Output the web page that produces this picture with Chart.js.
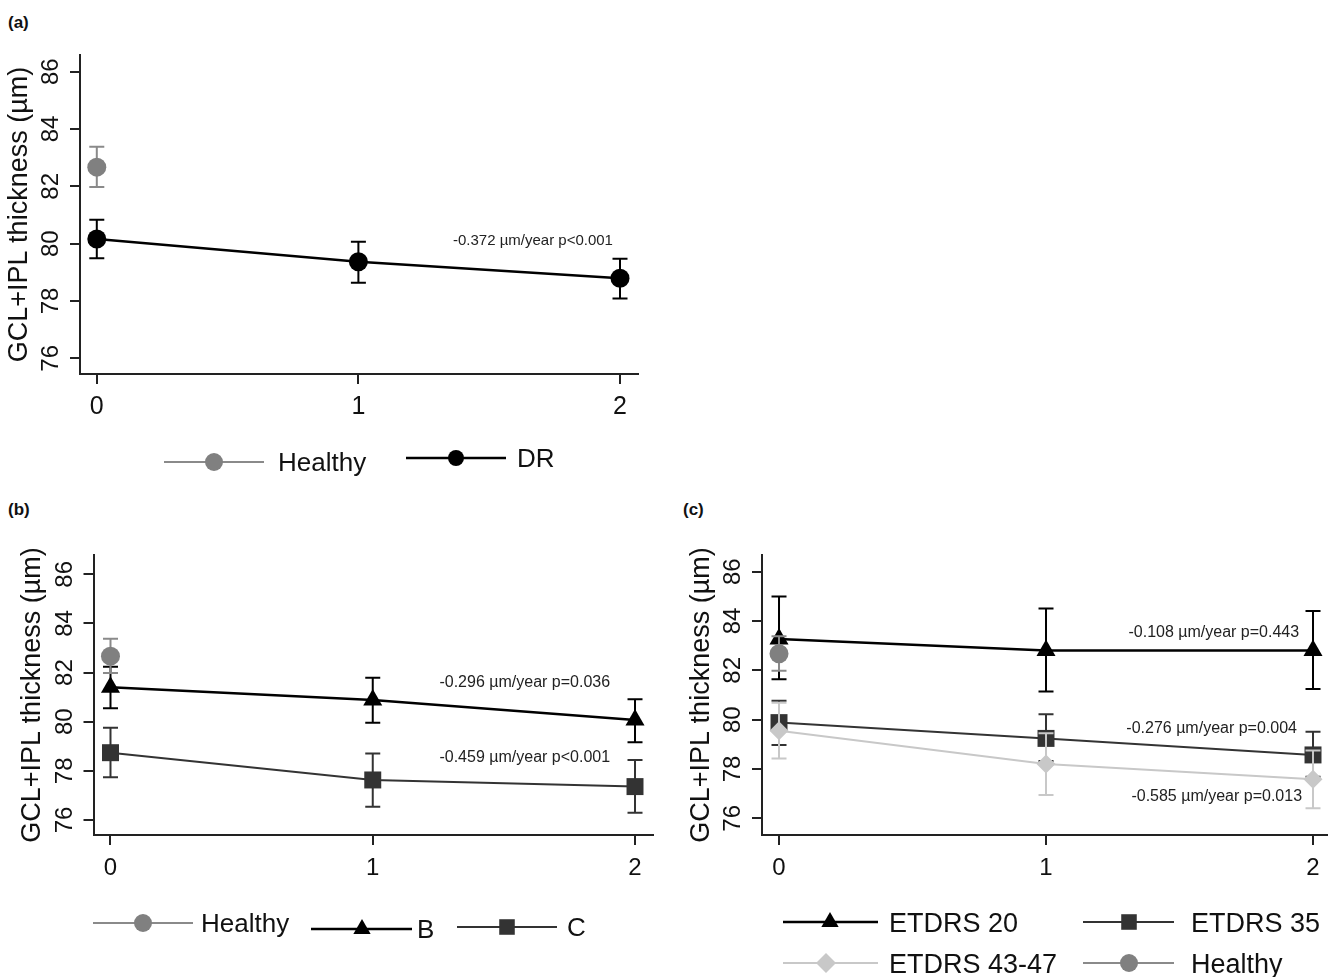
<!DOCTYPE html>
<html>
<head>
<meta charset="utf-8">
<script src="https://cdn.jsdelivr.net/npm/chart.js@4.4.1/dist/chart.umd.min.js"></script>
<style>
  html, body { margin: 0; padding: 0; background: #fff; }
  body { width: 1331px; height: 977px; position: relative; overflow: hidden; font-family: "Liberation Sans", Arial, sans-serif; }
  canvas { position: absolute; }
  .tag { position: absolute; font-weight: bold; font-size: 17px; color: #111; line-height: 20px; }
</style>
</head>
<body>
<div class="tag" style="left:8px; top:13px">(a)</div>
<div class="tag" style="left:8px; top:500px">(b)</div>
<div class="tag" style="left:683px; top:500px">(c)</div>
<canvas id="chartA" width="665" height="490" style="left:0; top:0"></canvas>
<canvas id="chartB" width="665" height="487" style="left:0; top:490px"></canvas>
<canvas id="chartC" width="666" height="487" style="left:665px; top:490px"></canvas>
<script>
const FONT = '"Liberation Sans", Arial, sans-serif';

// years of follow-up and axis ticks
const years = [0, 1, 2];
const xTicks = [0, 1, 2];
const yTicks = [76, 78, 80, 82, 84, 86];
const yTitle = "GCL+IPL thickness (µm)";

// healthy controls (baseline only)
const healthyMean = [82.67];
const healthyLow = [81.98];
const healthyHigh = [83.38];

// (a) all DR eyes
const drMean = [80.16, 79.37, 78.79];
const drLow = [79.49, 78.64, 78.09];
const drHigh = [80.83, 80.07, 79.47];

// (b) groups B and C
const bMean = [81.40, 80.88, 80.07];
const bLow = [80.55, 79.96, 79.16];
const bHigh = [82.24, 81.79, 80.91];
const cMean = [78.74, 77.63, 77.36];
const cLow = [77.74, 76.54, 76.30];
const cHigh = [79.76, 78.71, 78.44];

// (c) ETDRS levels
const e20Mean = [83.27, 82.80, 82.80];
const e20Low = [81.64, 81.14, 81.24];
const e20High = [84.99, 84.51, 84.41];
const e35Mean = [79.88, 79.24, 78.57];
const e35Low = [78.97, 78.32, 77.69];
const e35High = [80.77, 80.22, 79.51];
const e43Mean = [79.55, 78.20, 77.58];
const e43Low = [78.43, 76.95, 76.41];
const e43High = [80.69, 79.45, 78.75];

// slope annotations
const notesA = ["-0.372 µm/year p<0.001"];
const notesB = ["-0.296 µm/year p=0.036", "-0.459 µm/year p<0.001"];
const notesC = ["-0.108 µm/year p=0.443", "-0.276 µm/year p=0.004", "-0.585 µm/year p=0.013"];

function series(label, mean, low, high, style) {
  return Object.assign({
    label: label,
    data: mean.map((v, i) => ({ x: years[i], y: v })),
    errLow: low,
    errHigh: high,
    tension: 0,
    clip: false,
    pointBorderWidth: 0
  }, style);
}

const styles = {
  healthy: { borderColor: "#8a8a8a", backgroundColor: "#808080", pointBackgroundColor: "#808080", pointStyle: "circle", pointRadius: 9.5, borderWidth: 2, legendRadius: 9 },
  dr: { borderColor: "#000", backgroundColor: "#000", pointBackgroundColor: "#000", pointStyle: "circle", pointRadius: 9.5, borderWidth: 2.5, legendRadius: 8 },
  tri: { borderColor: "#000", backgroundColor: "#000", pointBackgroundColor: "#000", pointStyle: "triangle", pointRadius: 11, borderWidth: 2.5, legendRadius: 10 },
  sq: { borderColor: "#333", backgroundColor: "#333", pointBackgroundColor: "#333", pointStyle: "rect", pointRadius: 12, borderWidth: 2, legendRadius: 11 },
  dia: { borderColor: "#c8c8c8", backgroundColor: "#c8c8c8", pointBackgroundColor: "#c8c8c8", pointStyle: "rectRot", pointRadius: 9.5, borderWidth: 2, legendRadius: 10 }
};

// error bars drawn just before each dataset so layering follows dataset order
const errorBars = {
  id: "errorBars",
  beforeDatasetDraw(chart, args) {
    const ds = chart.data.datasets[args.index];
    if (!ds.errLow) return;
    const xs = chart.scales.x, ys = chart.scales.y, ctx = chart.ctx;
    const cap = 7.5;
    ctx.save();
    ctx.strokeStyle = ds.borderColor;
    ctx.lineWidth = 2;
    ds.data.forEach((p, i) => {
      const px = xs.getPixelForValue(p.x);
      const top = ys.getPixelForValue(ds.errHigh[i]);
      const bot = ys.getPixelForValue(ds.errLow[i]);
      ctx.beginPath();
      ctx.moveTo(px, top); ctx.lineTo(px, bot);
      ctx.moveTo(px - cap, top); ctx.lineTo(px + cap, top);
      ctx.moveTo(px - cap, bot); ctx.lineTo(px + cap, bot);
      ctx.stroke();
    });
    ctx.restore();
  }
};

// slope notes + line/marker legend
const extras = {};
const extrasPlugin = {
  id: "extras",
  afterDraw(chart) {
    const ex = extras[chart.canvas.id];
    if (!ex) return;
    const ctx = chart.ctx, xs = chart.scales.x, ys = chart.scales.y;
    ctx.save();
    ctx.fillStyle = "#222";
    ctx.font = ex.noteSize + "px " + FONT;
    ctx.textAlign = "right";
    ctx.textBaseline = "middle";
    ex.notes.forEach(n => {
      ctx.fillText(n.text, xs.getPixelForValue(n.x), ys.getPixelForValue(n.y));
    });

    ctx.textAlign = "left";
    ctx.textBaseline = "alphabetic";
    ctx.font = ex.legendSize + "px " + FONT;
    ex.legend.forEach(it => {
      const ds = chart.data.datasets.find(d => d.label === it.label);
      ctx.strokeStyle = ds.borderColor;
      ctx.lineWidth = ds.borderWidth;
      ctx.beginPath();
      ctx.moveTo(it.x1, it.y);
      ctx.lineTo(it.x2, it.y);
      ctx.stroke();
      ctx.fillStyle = ds.pointBackgroundColor;
      Chart.helpers.drawPoint(ctx, { pointStyle: ds.pointStyle, radius: ds.legendRadius, rotation: 0, borderWidth: 0 }, it.mx, it.y);
      ctx.fillStyle = "#111";
      ctx.fillText(ds.label, it.tx, it.y + 0.36 * ex.legendSize);
    });
    ctx.restore();
  }
};

Chart.register(errorBars, extrasPlugin);
Chart.defaults.font.family = FONT;

function makeChart(id, datasets, cfg) {
  return new Chart(document.getElementById(id), {
    type: "line",
    data: { datasets: datasets },
    options: {
      responsive: false,
      animation: false,
      events: [],
      layout: { autoPadding: false, padding: cfg.padding },
      plugins: { legend: { display: false }, tooltip: { enabled: false } },
      scales: {
        x: {
          type: "linear",
          min: cfg.xMin,
          max: cfg.xMax,
          afterBuildTicks: s => { s.ticks = xTicks.map(v => ({ value: v })); },
          afterFit: s => { s.height = 60; },
          grid: { drawOnChartArea: false, drawTicks: true, tickLength: 10, color: "#222", lineWidth: 2 },
          border: { display: true, color: "#222", width: 2 },
          ticks: { color: "#111", font: { size: cfg.xFont }, padding: cfg.xPad, maxRotation: 0, autoSkip: false, callback: v => String(v) }
        },
        y: {
          type: "linear",
          min: cfg.yMin,
          max: cfg.yMax,
          afterBuildTicks: s => { s.ticks = yTicks.map(v => ({ value: v })); },
          afterFit: s => { s.width = 80; },
          grid: { drawOnChartArea: false, drawTicks: true, tickLength: 10, color: "#222", lineWidth: 2 },
          border: { display: true, color: "#222", width: 2 },
          ticks: { color: "#111", font: { size: 24 }, padding: 5, minRotation: 90, maxRotation: 90, crossAlign: "center", callback: v => String(v) },
          title: { display: true, text: yTitle, color: "#111", font: { size: 27 }, padding: { top: 3, bottom: 0 } }
        }
      }
    }
  });
}

// (a)
extras.chartA = {
  noteSize: 15,
  notes: [{ text: notesA[0], x: 1.973, y: 80.09 }],
  legendSize: 26,
  legend: [
    { label: "Healthy", x1: 164, x2: 264, y: 462, mx: 214, tx: 278 },
    { label: "DR", x1: 406, x2: 506, y: 458, mx: 456, tx: 517 }
  ]
};
makeChart("chartA", [
  series("Healthy", healthyMean, healthyLow, healthyHigh, styles.healthy),
  series("DR", drMean, drLow, drHigh, styles.dr)
], { padding: { left: 0, right: 27, top: 55, bottom: 56 }, xMin: -0.0642, xMax: 2.0688, yMin: 75.452, yMax: 86.583, xFont: 25, xPad: 8.5 });

// (b)
extras.chartB = {
  noteSize: 16,
  notes: [
    { text: notesB[0], x: 1.905, y: 81.58 },
    { text: notesB[1], x: 1.905, y: 78.56 }
  ],
  legendSize: 26,
  legend: [
    { label: "Healthy", x1: 93, x2: 193, y: 433, mx: 143, tx: 201 },
    { label: "B", x1: 311, x2: 412, y: 439, mx: 362, tx: 417 },
    { label: "C", x1: 457, x2: 557, y: 437, mx: 507, tx: 567 }
  ]
};
makeChart("chartB", [
  series("Healthy", healthyMean, healthyLow, healthyHigh, styles.healthy),
  series("B", bMean, bLow, bHigh, styles.tri),
  series("C", cMean, cLow, cHigh, styles.sq)
], { padding: { left: 13.5, right: 12, top: 65, bottom: 82 }, xMin: -0.0648, xMax: 2.0686, yMin: 75.39, yMax: 86.786, xFont: 24, xPad: 9 });

// (c)
extras.chartC = {
  noteSize: 16,
  notes: [
    { text: notesC[0], x: 1.948, y: 83.55 },
    { text: notesC[1], x: 1.940, y: 79.62 },
    { text: notesC[2], x: 1.959, y: 76.90 }
  ],
  legendSize: 27,
  legend: [
    { label: "ETDRS 20", x1: 118, x2: 213, y: 432, mx: 165, tx: 224 },
    { label: "ETDRS 35", x1: 418, x2: 509, y: 432, mx: 464, tx: 526 },
    { label: "ETDRS 43-47", x1: 118, x2: 213, y: 473, mx: 161, tx: 224 },
    { label: "Healthy", x1: 418, x2: 509, y: 473, mx: 464, tx: 526 }
  ]
};
makeChart("chartC", [
  series("Healthy", healthyMean, healthyLow, healthyHigh, styles.healthy),
  series("ETDRS 43-47", e43Mean, e43Low, e43High, styles.dia),
  series("ETDRS 35", e35Mean, e35Low, e35High, styles.sq),
  series("ETDRS 20", e20Mean, e20Low, e20High, styles.tri)
], { padding: { left: 17, right: 4, top: 65, bottom: 82 }, xMin: -0.0637, xMax: 2.0524, yMin: 75.323, yMax: 86.677, xFont: 24, xPad: 9 });
</script>
</body>
</html>
